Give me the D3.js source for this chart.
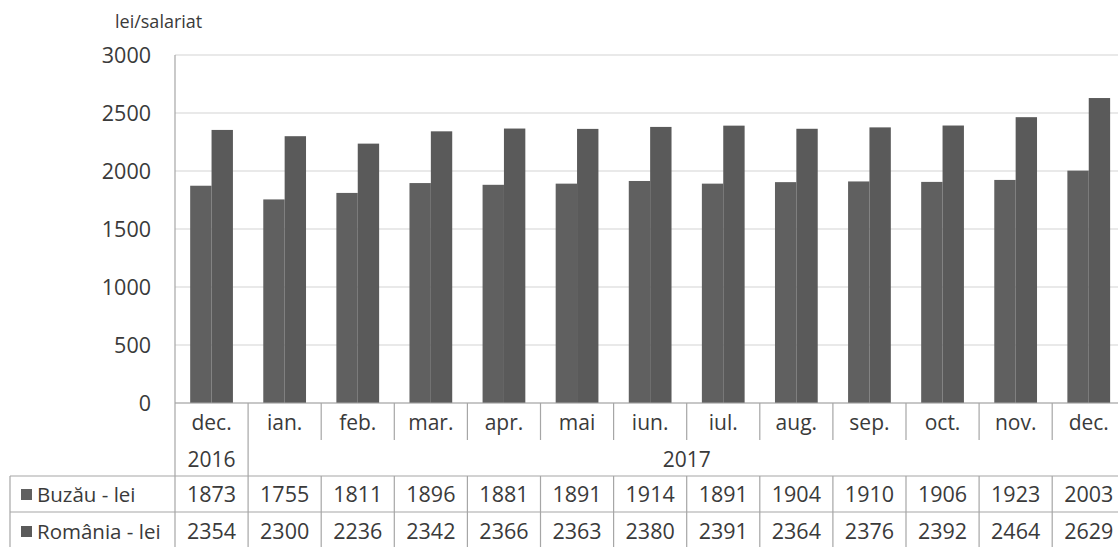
<!DOCTYPE html>
<html><head><meta charset="utf-8">
<script src="https://cdn.jsdelivr.net/npm/d3@7"></script>
<style>
html,body{margin:0;padding:0;background:#fff;}
svg{display:block;}
text{font-family:"Open Sans",sans-serif;fill:#3a3a3a;}
</style></head>
<body>
<svg id="c" width="1118" height="547"></svg>
<script>
const months = ["dec.","ian.","feb.","mar.","apr.","mai","iun.","iul.","aug.","sep.","oct.","nov.","dec."];
const years = [{label:"2016", from:0, to:0},{label:"2017", from:1, to:12}];
const seriesNames = ["Buzău - lei","România - lei"];
const buzau = [1873,1755,1811,1896,1881,1891,1914,1891,1904,1910,1906,1923,2003];
const romania = [2354,2300,2236,2342,2366,2363,2380,2391,2364,2376,2392,2464,2629];
const yTicks = [0,500,1000,1500,2000,2500,3000];
const unitLabel = "lei/salariat";

const svg = d3.select("#c");
const x0 = 175, bandW = 73.1;
const x = d3.scaleBand().domain(d3.range(months.length)).range([x0, x0 + bandW*months.length]).paddingInner(0).paddingOuter(0);
const y = d3.scaleLinear().domain([0,3000]).range([403,55]);
const xs = d3.scaleBand().domain([0,1]).range([0, bandW]).paddingInner(0).paddingOuter(0.71);
const gridC = "#d4d4d4", lineC = "#a6a6a6", barC = ["#606060","#5a5a5a"];

// gridlines
svg.append("g").selectAll("line").data(yTicks).join("line")
  .attr("x1", x0).attr("x2", 1118).attr("y1", d=>y(d)).attr("y2", d=>y(d))
  .attr("stroke", gridC).attr("stroke-width",1.2);

// y-axis labels
const yAxis = d3.axisLeft(y).tickValues(yTicks).tickSize(0).tickPadding(0).tickFormat(d3.format("d"));
const ga = svg.append("g").attr("transform","translate(151,0)").call(yAxis);
ga.select(".domain").remove();
ga.selectAll("text").style("font-family","'Open Sans',sans-serif").style("font-size","21.5px").attr("fill","#3a3a3a").attr("dy","0.35em");

svg.append("text").attr("x",115).attr("y",28).style("font-size","18px").text(unitLabel);

// bars
const data = [buzau, romania];
data.forEach((ser,si)=>{
  svg.append("g").selectAll("rect").data(ser).join("rect")
    .attr("x",(d,i)=>x(i)+xs(si)).attr("width",xs.bandwidth())
    .attr("y",d=>y(d)).attr("height",d=>y(0)-y(d)).attr("fill",barC[si]);
});

// table lines
const rowTop = [476, 512];
const tl = svg.append("g").attr("stroke",lineC).attr("stroke-width",1.2);
tl.append("line").attr("x1",x0).attr("x2",x0).attr("y1",55).attr("y2",547);
tl.append("line").attr("x1",x0).attr("x2",1118).attr("y1",y(0)).attr("y2",y(0));
d3.range(1, months.length).forEach(i=>{
  const xx = x(i);
  if (i===1) tl.append("line").attr("x1",xx).attr("x2",xx).attr("y1",y(0)).attr("y2",547);
  else {
    tl.append("line").attr("x1",xx).attr("x2",xx).attr("y1",y(0)).attr("y2",440);
    tl.append("line").attr("x1",xx).attr("x2",xx).attr("y1",rowTop[0]).attr("y2",547);
  }
});
rowTop.forEach(yy=>tl.append("line").attr("x1",10).attr("x2",1118).attr("y1",yy).attr("y2",yy));
tl.append("line").attr("x1",10).attr("x2",10).attr("y1",rowTop[0]).attr("y2",547);

// category labels
svg.append("g").selectAll("text").data(months).join("text")
  .attr("x",(d,i)=>x(i)+bandW/2).attr("y",430).attr("text-anchor","middle").style("font-size","21px").text(d=>d);
// years
svg.append("g").selectAll("text").data(years).join("text")
  .attr("x",d=>(x(d.from)+x(d.to)+bandW)/2).attr("y",467).attr("text-anchor","middle").style("font-size","21px").text(d=>d.label);

// table rows
const rowY = [502, 539];
data.forEach((ser,si)=>{
  svg.append("rect").attr("x",21).attr("y",rowY[si]-13).attr("width",11).attr("height",11).attr("fill",barC[si]);
  svg.append("text").attr("x",37).attr("y",rowY[si]).style("font-size","20.5px").text(seriesNames[si]);
  svg.append("g").selectAll("text").data(ser).join("text")
    .attr("x",(d,i)=>x(i)+bandW/2).attr("y",rowY[si]).attr("text-anchor","middle").style("font-size","21.5px").text(d=>d);
});
</script>
</body></html>
